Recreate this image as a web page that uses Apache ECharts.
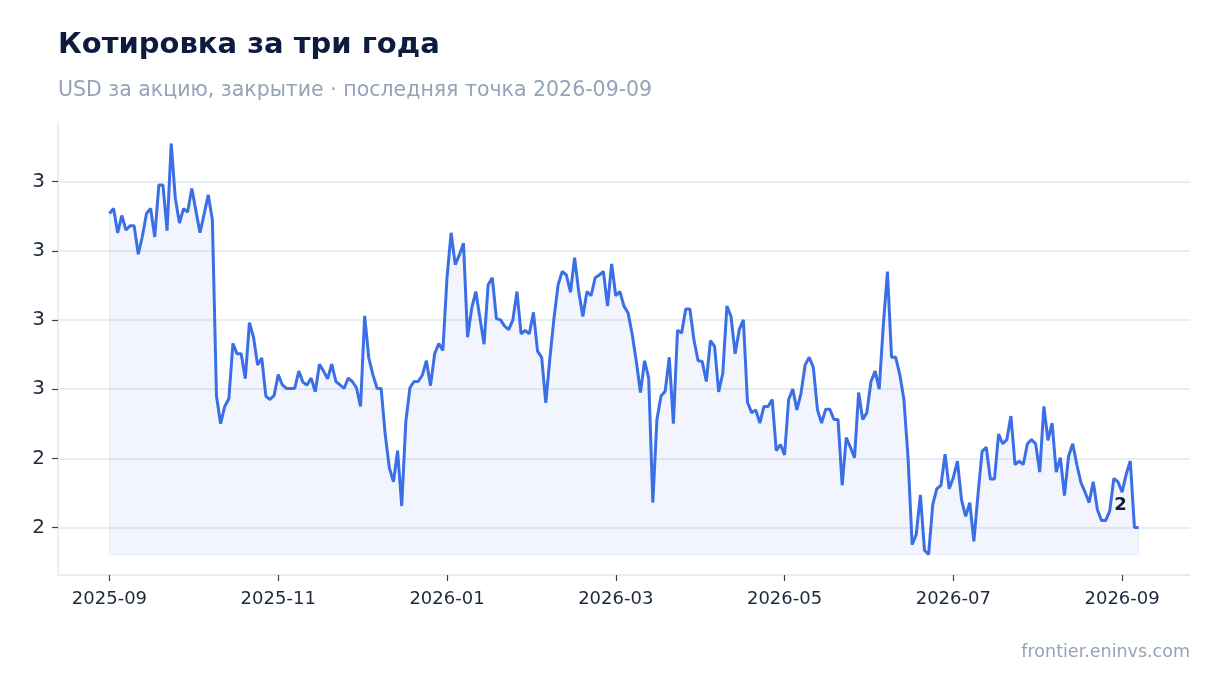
<!DOCTYPE html>
<html>
<head>
<meta charset="utf-8">
<title>Котировка за три года</title>
<script src="https://cdn.jsdelivr.net/npm/echarts@6/dist/echarts.min.js"></script>
<style>
  html, body { margin: 0; padding: 0; background: #ffffff; }
  #chart { width: 1220px; height: 693px; }
</style>
</head>
<body>
<div id="chart"></div>
<script>
// data, evenly spaced from first to last date
var startDate = '2025-09-01';
var endDate = '2026-09-09';
var prices = [
	2.754, 2.761, 2.726, 2.751, 2.730, 2.736, 2.736, 2.695, 2.721, 2.754,
	2.761, 2.720, 2.795, 2.795, 2.729, 2.855, 2.776, 2.740, 2.761, 2.756,
	2.790, 2.758, 2.726, 2.753, 2.781, 2.745, 2.490, 2.450, 2.475, 2.486,
	2.566, 2.551, 2.551, 2.515, 2.596, 2.575, 2.535, 2.545, 2.490, 2.485,
	2.491, 2.521, 2.506, 2.501, 2.501, 2.501, 2.526, 2.510, 2.506, 2.516,
	2.496, 2.536, 2.526, 2.515, 2.536, 2.511, 2.506, 2.501, 2.516, 2.511,
	2.502, 2.475, 2.606, 2.545, 2.521, 2.501, 2.501, 2.434, 2.386, 2.366,
	2.411, 2.331, 2.453, 2.502, 2.511, 2.511, 2.520, 2.541, 2.505, 2.551,
	2.566, 2.556, 2.661, 2.726, 2.680, 2.694, 2.711, 2.575, 2.617, 2.641,
	2.603, 2.565, 2.651, 2.661, 2.602, 2.600, 2.591, 2.586, 2.600, 2.641,
	2.580, 2.585, 2.580, 2.611, 2.555, 2.546, 2.480, 2.545, 2.603, 2.651,
	2.670, 2.665, 2.640, 2.690, 2.641, 2.605, 2.641, 2.635, 2.661, 2.665,
	2.670, 2.620, 2.681, 2.635, 2.641, 2.620, 2.610, 2.579, 2.540, 2.495,
	2.541, 2.516, 2.336, 2.456, 2.490, 2.497, 2.546, 2.450, 2.585, 2.581,
	2.616, 2.616, 2.571, 2.541, 2.540, 2.511, 2.570, 2.562, 2.496, 2.523,
	2.620, 2.605, 2.551, 2.586, 2.600, 2.481, 2.466, 2.470, 2.451, 2.475,
	2.475, 2.485, 2.411, 2.420, 2.405, 2.485, 2.500, 2.470, 2.494, 2.535,
	2.546, 2.531, 2.470, 2.451, 2.471, 2.471, 2.456, 2.456, 2.361, 2.430,
	2.416, 2.401, 2.495, 2.456, 2.466, 2.511, 2.526, 2.500, 2.593, 2.670,
	2.546, 2.546, 2.521, 2.485, 2.401, 2.275, 2.290, 2.347, 2.267, 2.261,
	2.333, 2.356, 2.361, 2.406, 2.356, 2.372, 2.396, 2.340, 2.316, 2.336,
	2.280, 2.348, 2.410, 2.416, 2.370, 2.370, 2.435, 2.421, 2.427, 2.461,
	2.391, 2.396, 2.391, 2.421, 2.427, 2.421, 2.380, 2.475, 2.426, 2.451,
	2.380, 2.401, 2.346, 2.403, 2.421, 2.391, 2.365, 2.351, 2.336, 2.366,
	2.326, 2.310, 2.310, 2.324, 2.371, 2.366, 2.351, 2.377, 2.396, 2.300,
	2.300
];
var yTicks = [2.3, 2.4, 2.5, 2.6, 2.7, 2.8];
// x tick labels sit on every 41st point of the series
var xTickIndex = [0, 41, 82, 123, 164, 205, 246];
var xTicks = ['2025-09', '2025-11', '2026-01', '2026-03', '2026-05', '2026-07', '2026-09'];

var FONT = 'DejaVu Sans';

function toTime(s) {
	var p = s.split('-');
	return new Date(+p[0], +p[1] - 1, +p[2]).getTime();
}

var t0 = toTime(startDate), t1 = toTime(endDate);
var step = (t1 - t0) / (prices.length - 1);
var seriesData = [];
for (var i = 0; i < prices.length; i++) {
	seriesData.push([t0 + i * step, prices[i]]);
}
var yMin = Math.min.apply(null, prices), yMax = Math.max.apply(null, prices);
var yPad = (yMax - yMin) * 0.05;
var xPad = (t1 - t0) * 0.05;
var xTickTimes = xTickIndex.map(function (k) { return seriesData[k][0]; });
var first = seriesData[0];
var last = seriesData[seriesData.length - 1];
var edgeColor = 'rgba(58,111,230,0.09)';

var myChart = echarts.init(document.getElementById('chart'), null, { renderer: 'canvas' });
var option = {
	backgroundColor: '#ffffff',
	animation: false,
	textStyle: { fontFamily: FONT },
	title: {
		text: 'Котировка за три года',
		subtext: 'USD за акцию, закрытие · последняя точка ' + endDate,
		left: 58,
		top: 31,
		padding: 0,
		itemGap: 20,
		textStyle: { fontFamily: FONT, fontSize: 29, fontWeight: 'bold', color: '#0c1b3e' },
		subtextStyle: { fontFamily: FONT, fontSize: 20.5, color: '#94a3b8' }
	},
	graphic: [{
		type: 'text',
		right: 30,
		top: 643,
		style: { text: 'frontier.eninvs.com', font: '17.5px "DejaVu Sans"', fill: '#94a3b8' }
	}],
	grid: { left: 58, right: 30, top: 123, bottom: 118, containLabel: false },
	xAxis: {
		type: 'value',
		min: t0 - xPad,
		max: t1 + xPad,
		axisLine: { show: true, lineStyle: { color: '#e2e8f0', width: 1.5 } },
		axisTick: { show: true, length: 6, customValues: xTickTimes, lineStyle: { color: '#334155', width: 1.2 } },
		axisLabel: {
			customValues: xTickTimes,
			margin: 15,
			fontSize: 18,
			color: '#1e293b',
			fontFamily: FONT,
			formatter: function (v) {
				var k = xTickTimes.indexOf(v);
				return k >= 0 ? xTicks[k] : '';
			}
		},
		splitLine: { show: false }
	},
	yAxis: {
		type: 'value',
		min: yMin - yPad,
		max: yMax + yPad,
		axisLine: { show: true, lineStyle: { color: '#e2e8f0', width: 1.5 } },
		axisTick: { show: true, length: 6, customValues: yTicks, lineStyle: { color: '#334155', width: 1.2 } },
		axisLabel: {
			customValues: yTicks,
			margin: 13,
			fontSize: 20,
			color: '#1e293b',
			fontFamily: FONT,
			formatter: function (v) { return Math.round(v).toString(); }
		},
		splitLine: { show: true, lineStyle: { color: '#e2e8f0', width: 1.5 } }
	},
	series: [{
		type: 'line',
		data: seriesData,
		showSymbol: false,
		symbol: 'none',
		z: 3,
		lineStyle: { color: '#3a6fe6', width: 3 },
		itemStyle: { color: '#3a6fe6' },
		areaStyle: { color: 'rgba(58,111,230,0.095)', origin: yMin },
		markLine: {
			silent: true,
			symbol: 'none',
			label: { show: false },
			lineStyle: { color: edgeColor, width: 1.2, type: 'solid' },
			data: [
				[{ coord: [first[0], yMin] }, { coord: [first[0], first[1]] }],
				[{ coord: [first[0], yMin] }, { coord: [last[0], yMin] }],
				[{ coord: [last[0], yMin] }, { coord: [last[0], last[1]] }]
			]
		},
		markPoint: {
			symbol: 'circle',
			symbolSize: 0,
			silent: true,
			label: {
				show: true,
				offset: [-18, -22],
				fontFamily: FONT,
				fontSize: 18,
				fontWeight: 'bold',
				color: '#0c1b3e',
				formatter: function (p) { return Math.round(p.value).toString(); }
			},
			data: [{ coord: last, value: last[1] }]
		}
	}]
};
myChart.setOption(option);
</script>
</body>
</html>
